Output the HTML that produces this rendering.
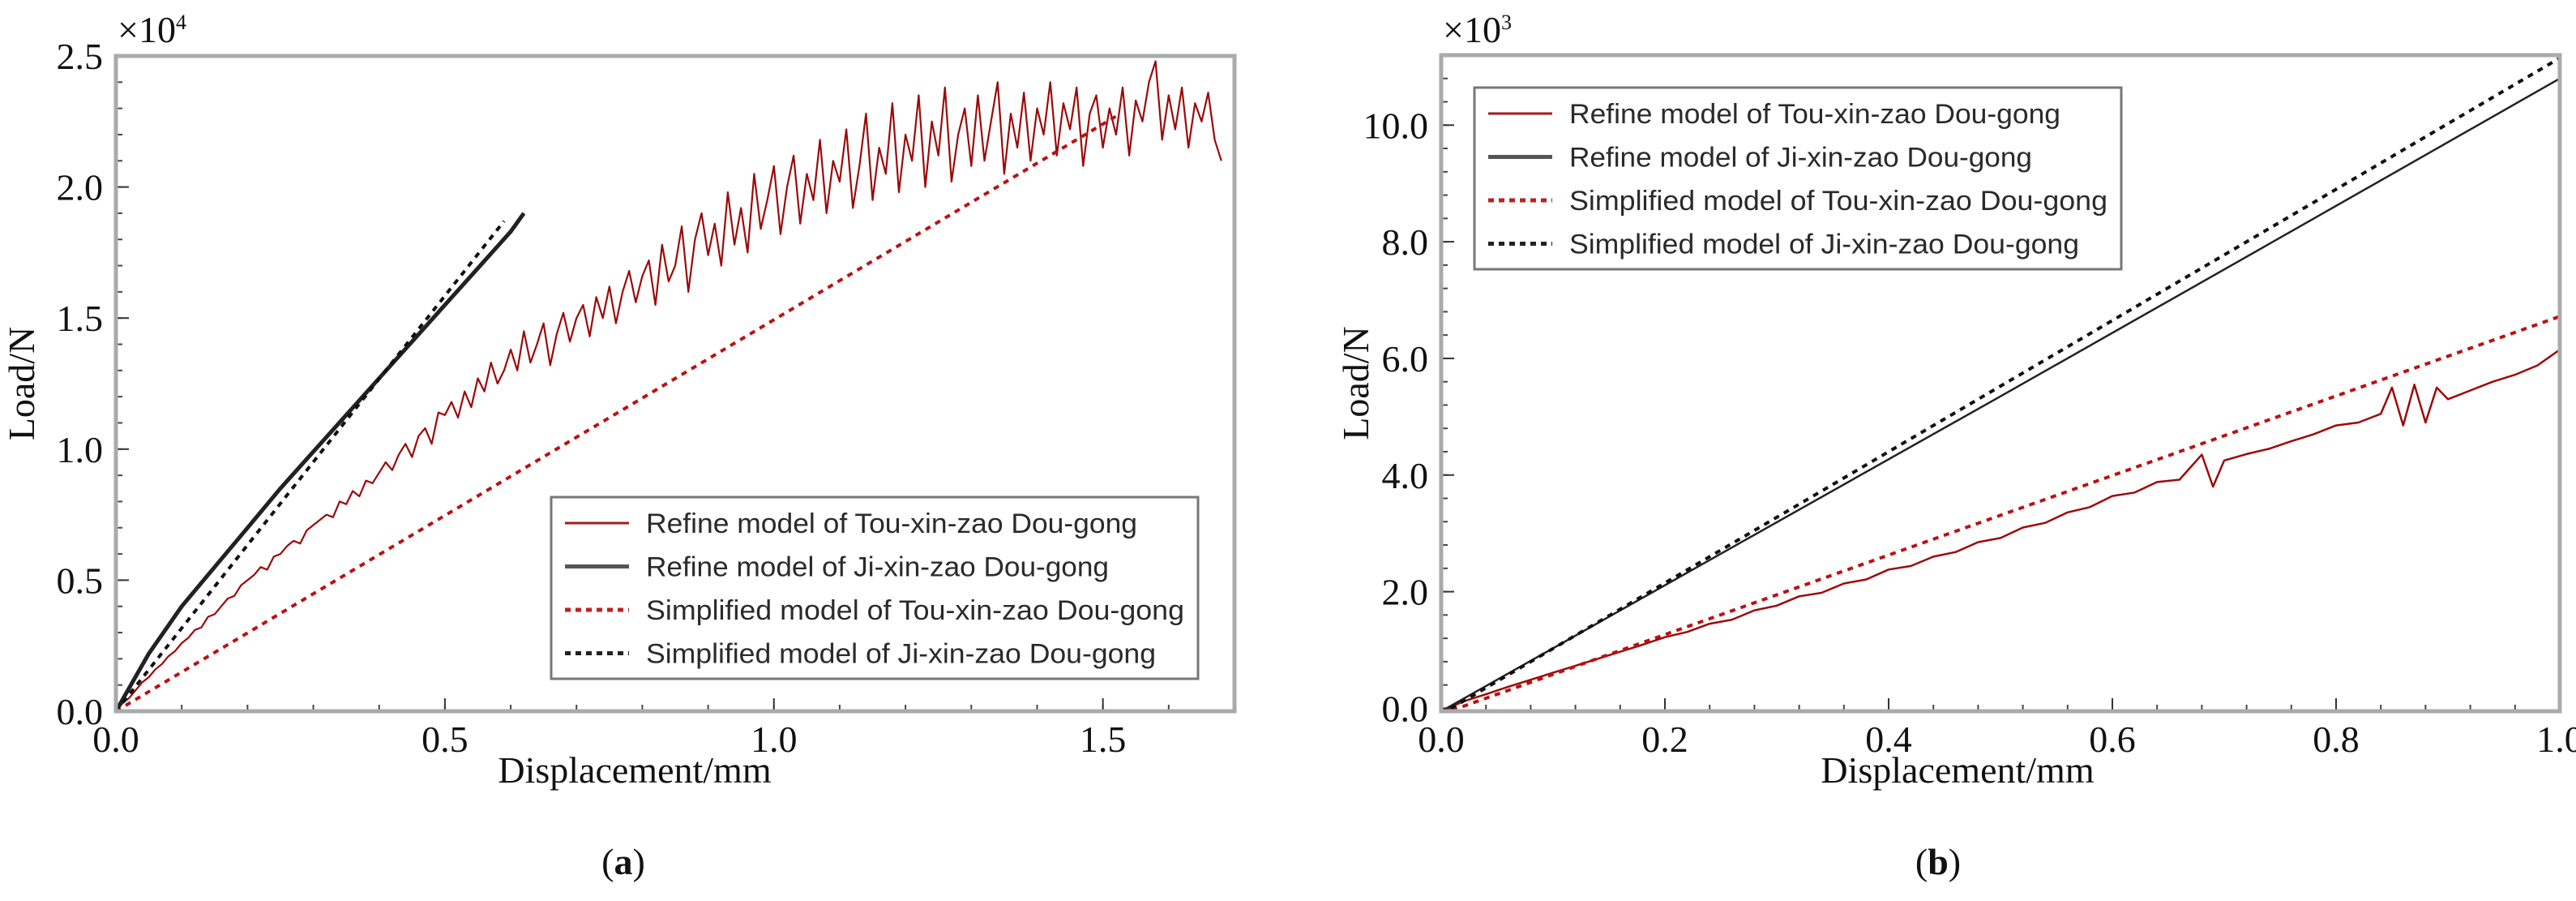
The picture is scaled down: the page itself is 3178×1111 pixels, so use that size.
<!DOCTYPE html>
<html><head><meta charset="utf-8"><style>
html,body{margin:0;padding:0;background:#fff}
svg{display:block}
.tk{font-family:"Liberation Serif",serif;font-size:46px;fill:#111}
.lg{font-family:"Liberation Sans",sans-serif;font-size:34px;fill:#2a2a2a}
</style></head><body>
<svg id="fig" width="3178" height="1111" viewBox="0 0 3178 1111" xmlns="http://www.w3.org/2000/svg"></svg>
<script>
// ---- Chart (a) data ----
const aTouStep = 0.01;
const aTouY = [0,.03,.05,.08,.11,.13,.16,.18,.21,.23,.26,
.28,.31,.32,.36,.37,.40,.43,.44,.48,.50,
.52,.55,.54,.59,.60,.63,.65,.64,.69,.71,
.73,.75,.74,.80,.79,.84,.82,.88,.87,.91,
.95,.92,.98,1.02,.97,1.05,1.08,1.02,1.14,1.13,
1.18,1.12,1.22,1.16,1.27,1.22,1.33,1.25,1.30,1.38,
1.30,1.45,1.33,1.40,1.48,1.32,1.44,1.52,1.41,1.50,
1.55,1.43,1.58,1.50,1.62,1.48,1.60,1.68,1.56,1.66,
1.72,1.55,1.78,1.64,1.70,1.85,1.60,1.80,1.90,1.74,
1.86,1.70,1.98,1.78,1.92,1.75,2.05,1.84,1.95,2.08,
1.82,2.00,2.12,1.86,2.05,1.95,2.18,1.90,2.10,2.02,
2.22,1.92,2.08,2.28,1.95,2.15,2.05,2.32,1.98,2.20,
2.10,2.35,2.00,2.25,2.12,2.38,2.02,2.20,2.30,2.08,
2.35,2.10,2.25,2.40,2.05,2.28,2.15,2.36,2.10,2.30,
2.20,2.40,2.12,2.32,2.22,2.38,2.08,2.28,2.35,2.15,
2.30,2.20,2.38,2.12,2.33,2.25,2.40,2.48,2.18,2.35,
2.22,2.38,2.15,2.32,2.25,2.36,2.18,2.10];
const aTouX = aTouY.map((_,i)=>+(i*aTouStep).toFixed(2));
const aJiX = [0,0.05,0.10,0.15,0.20,0.25,0.30,0.35,0.40,0.45,0.50,0.55,0.60,0.62];
const aJiY = [0,0.22,0.40,0.55,0.70,0.85,0.99,1.13,1.27,1.41,1.55,1.69,1.83,1.90];
const aSimTouX = [0,1.52];
const aSimTouY = [0,2.27];
const aSimJiX = [0,0.59];
const aSimJiY = [0,1.87];
const aXTicks = ["0.0","0.5","1.0","1.5"];
const aYTicks = ["0.0","0.5","1.0","1.5","2.0","2.5"];
// ---- Chart (b) data ----
const bTouX = [0,0.02,0.04,0.06,0.08,0.10,0.12,0.14,0.16,0.18,0.20,0.22,0.24,0.26,0.28,0.30,0.32,0.34,0.36,0.38,0.40,0.42,0.44,0.46,0.48,0.50,0.52,0.54,0.56,0.58,0.60,0.62,0.64,0.66,0.68,0.69,0.70,0.72,0.74,0.76,0.78,0.80,0.82,0.84,0.85,0.86,0.87,0.88,0.89,0.90,0.92,0.94,0.96,0.98,1.00];
const bTouY = [-0.05,0.12,0.24,0.37,0.49,0.61,0.73,0.85,0.97,1.09,1.22,1.31,1.45,1.52,1.68,1.76,1.92,1.98,2.14,2.21,2.38,2.44,2.60,2.68,2.85,2.92,3.10,3.18,3.36,3.45,3.64,3.70,3.88,3.92,4.35,3.80,4.25,4.36,4.45,4.58,4.70,4.85,4.90,5.05,5.50,4.85,5.55,4.90,5.50,5.30,5.45,5.60,5.72,5.88,6.15];
const bJiX = [0,0.25,0.5,0.75,1.0];
const bJiY = [-0.05,2.65,5.35,8.07,10.8];
const bSimTouX = [0,1.0];
const bSimTouY = [-0.1,6.72];
const bSimJiX = [0,1.0];
const bSimJiY = [-0.1,11.15];
const bXTicks = ["0.0","0.2","0.4","0.6","0.8","1.0"];
const bYTicks = ["0.0","2.0","4.0","6.0","8.0","10.0"];
const legendLabels = ["Refine model of Tou-xin-zao Dou-gong","Refine model of Ji-xin-zao Dou-gong","Simplified model of Tou-xin-zao Dou-gong","Simplified model of Ji-xin-zao Dou-gong"];

const NS="http://www.w3.org/2000/svg";
const svg=document.getElementById('fig');
function mk(tag,attrs,parent){const e=document.createElementNS(NS,tag);for(const k in attrs)e.setAttribute(k,attrs[k]);(parent||svg).appendChild(e);return e;}
const RED="#9b0a0a";

function chart(o){
  const g=mk('g',{});
  
  
  const sx=v=>o.L+(v-o.x0)/(o.x1-o.x0)*(o.R-o.L);
  const sy=v=>o.B-(v-o.y0)/(o.y1-o.y0)*(o.B-o.T);
  for(let v=o.x0;v<=o.x1+1e-9;v+=o.xMinor){const t=mk('line',{x1:sx(v),x2:sx(v),y1:o.B,y2:o.B-8,stroke:'#444','stroke-width':2},g);}
  for(let v=0;v<=o.y1+1e-9;v+=o.yMinor){const t=mk('line',{x1:o.L,x2:o.L+8,y1:sy(v),y2:sy(v),stroke:'#444','stroke-width':2},g);}
  o.xTicks.forEach((s)=>{const v=parseFloat(s);
    const t=mk('line',{x1:sx(v),x2:sx(v),y1:o.B,y2:o.B-16,stroke:'#333','stroke-width':2},g);
    const tx=mk('text',{x:sx(v),y:o.B+50,'text-anchor':'middle',class:'tk'},g);tx.textContent=s;});
  o.yTicks.forEach((s)=>{const v=parseFloat(s);
    const t=mk('line',{x1:o.L,x2:o.L+16,y1:sy(v),y2:sy(v),stroke:'#333','stroke-width':2},g);
    const tx=mk('text',{x:o.L-16,y:sy(v)+16,'text-anchor':'end',class:'tk'},g);tx.textContent=s;});
  const clip=mk('clipPath',{id:o.name+'-clip'},g);mk('rect',{x:o.L,y:o.T-2,width:o.R-o.L,height:o.B-o.T+2},clip);
  const pg=mk('g',{'clip-path':'url(#'+o.name+'-clip)'},g);
  o.series.forEach(s=>{
    const d=s.x.map((v,i)=>(i?'L':'M')+sx(v).toFixed(1)+' '+sy(s.y[i]).toFixed(1)).join(' ');
    const p=mk('path',{d:d,fill:'none',stroke:s.c,'stroke-width':s.w,'stroke-dasharray':s.dash||'none','stroke-linejoin':'round'},pg);
    
    
  });
  const fr=mk('rect',{x:o.L,y:o.T,width:o.R-o.L,height:o.B-o.T,fill:'none',stroke:'#aaa','stroke-width':5},g);
  
  const mul=mk('text',{x:o.L+2,y:52,class:'tk','font-size':'40'},g);
  mul.innerHTML='×10<tspan dy="-16" font-size="26">'+o.exp+'</tspan>';
  
  const yt=mk('text',{x:0,y:0,class:'tk','text-anchor':'middle','font-size':'48',transform:'translate('+o.yTitleX+','+(o.T+o.B)/2+') rotate(-90)'},g);
  yt.textContent='Load/N';
  const xt=mk('text',{x:o.xTitleX,y:965,class:'tk','text-anchor':'middle','font-size':'48'},g);
  xt.textContent='Displacement/mm';
  const cap=mk('text',{x:o.capX,y:1078,class:'tk','text-anchor':'middle','font-size':'58'},g);
  cap.innerHTML='(<tspan font-weight="bold">'+o.cap+'</tspan>)';
  const lg=mk('g',{},g);
  const lb=mk('rect',{x:o.lgX,y:o.lgY,width:o.lgW,height:224,fill:'#fff',stroke:'#777','stroke-width':3},lg);
  
  const sty=[{c:'#a51c1c',w:3,d:'none'},{c:'#555',w:5,d:'none'},{c:'#b22',w:5,d:'7 6'},{c:'#222',w:5,d:'7 6'}];
  const tl=[606,571,664,629];
  legendLabels.forEach((t,i)=>{const y=o.lgY+32+i*53.5;
    const e=mk('g',{},lg);
    mk('line',{x1:o.lgX+17,x2:o.lgX+96,y1:y,y2:y,stroke:sty[i].c,'stroke-width':sty[i].w,'stroke-dasharray':sty[i].d},e);
    const tx=mk('text',{x:o.lgX+117,y:y+12,class:'lg',textLength:tl[i],lengthAdjust:'spacingAndGlyphs'},e);tx.textContent=t;});
}

chart({name:'chart-a',L:143,R:1523,T:69,B:877,x0:0,x1:1.7,y0:0,y1:2.5,xMinor:0.1,yMinor:0.1,
  xTicks:aXTicks,yTicks:aYTicks,exp:'4',yTitleX:42,xTitleX:783,capX:769,cap:'a',lgX:680,lgY:613,lgW:798,
  series:[
    {name:'series-tou-refine',x:aTouX,y:aTouY,c:RED,w:2.2},
    {name:'series-ji-refine',x:aJiX,y:aJiY,c:'#222',w:5},
    {name:'series-tou-simplified',x:aSimTouX,y:aSimTouY,c:'#b11',w:4,dash:'7 7'},
    {name:'series-ji-simplified',x:aSimJiX,y:aSimJiY,c:'#111',w:4,dash:'7 7'}]});
chart({name:'chart-b',L:1778,R:3158,T:68,B:877,x0:0,x1:1.0,y0:-0.05,y1:11.2,xMinor:0.04,yMinor:0.4,
  xTicks:bXTicks,yTicks:bYTicks,exp:'3',yTitleX:1688,xTitleX:2415,capX:2391,cap:'b',lgX:1819,lgY:108,lgW:798,
  series:[
    {name:'series-tou-refine',x:bTouX,y:bTouY,c:RED,w:2.5},
    {name:'series-ji-refine',x:bJiX,y:bJiY,c:'#222',w:2.5},
    {name:'series-tou-simplified',x:bSimTouX,y:bSimTouY,c:'#b11',w:4,dash:'7 7'},
    {name:'series-ji-simplified',x:bSimJiX,y:bSimJiY,c:'#111',w:4,dash:'7 7'}]});
</script>
</body></html>
